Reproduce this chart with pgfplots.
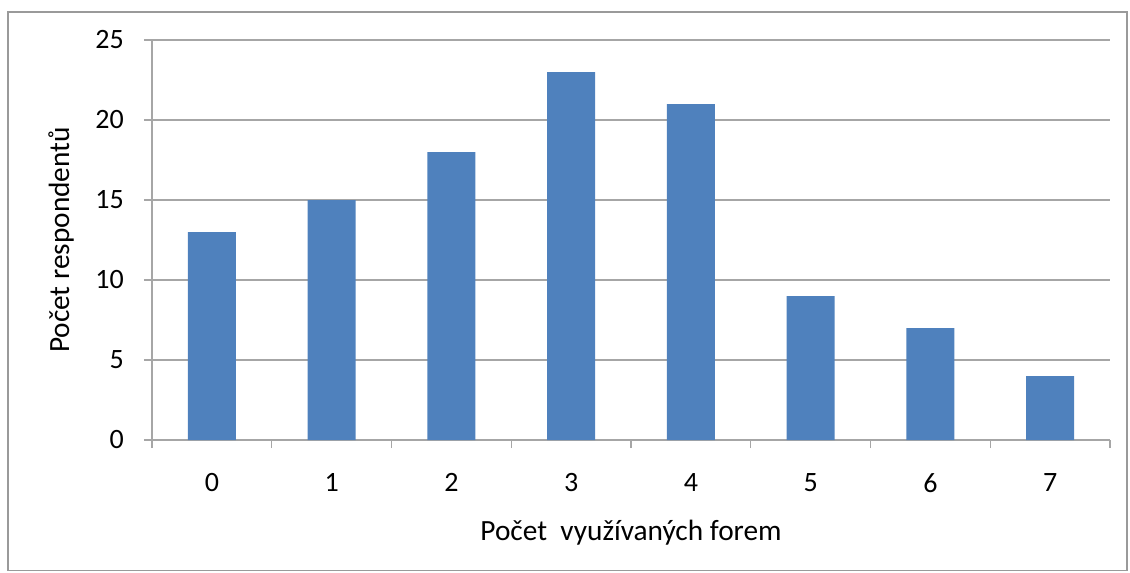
\documentclass[border=0pt]{standalone}
\usepackage{pgfplots}
\pgfplotsset{compat=1.18}
\usepackage{fontspec}
\setmainfont{Carlito}
\definecolor{barblue}{HTML}{4F81BD}
\definecolor{gridgray}{HTML}{A6A6A6}
\definecolor{framegray}{HTML}{9A9A9A}
\begin{document}
\fontsize{21pt}{25pt}\selectfont
\begin{tikzpicture}
\begin{axis}[
  name=ax,
  scale only axis,
  width=718.5pt, height=300pt,
  xmin=-0.5, xmax=7.5,
  ymin=0, ymax=25,
  ytick={0,5,...,25},
  xtick={0,...,7},
  xticklabels={0,1,2,3,4,5,6,7},
  minor xtick={-0.5,0.5,...,7.5},
  axis x line*=bottom,
  axis y line*=left,
  axis line style={gridgray, line width=0.9pt},
  every tick/.style={gridgray, line width=0.9pt},
  tick align=outside,
  major tick length=6pt,
  minor tick length=6pt,
  xtick style={draw=none},
  minor x tick style={draw=gridgray},
  ymajorgrids,
  grid style={gridgray, line width=0.9pt},
  yticklabel style={xshift=-8pt},
  xticklabel style={yshift=-12pt},
  ticklabel style={font=\fontsize{21pt}{25pt}\selectfont},
  /pgf/number format/assume math mode=true,
  xlabel={Počet\ \ využívaných forem},
  ylabel={Počet respondentů},
  xlabel style={font=\fontsize{22pt}{26pt}\selectfont, yshift=-6pt},
  ylabel style={font=\fontsize{22pt}{26pt}\selectfont, yshift=2pt},
  ybar, bar width=36pt, bar shift=0pt,
  clip=false,
]
\addplot[fill=barblue, draw=none] coordinates {
(0,13) (1,15) (2,18) (3,23) (4,21) (5,9) (6,7) (7,4)
};
\end{axis}
\draw[framegray, line width=1.2pt] ([xshift=-108pt,yshift=-98pt]ax.south west) rectangle ([xshift=12.75pt,yshift=21pt]ax.north east);
\pgfresetboundingbox
\path[use as bounding box] ([xshift=-114pt,yshift=-99pt]ax.south west) rectangle ([xshift=15pt,yshift=30pt]ax.north east);
\end{tikzpicture}
\end{document}
